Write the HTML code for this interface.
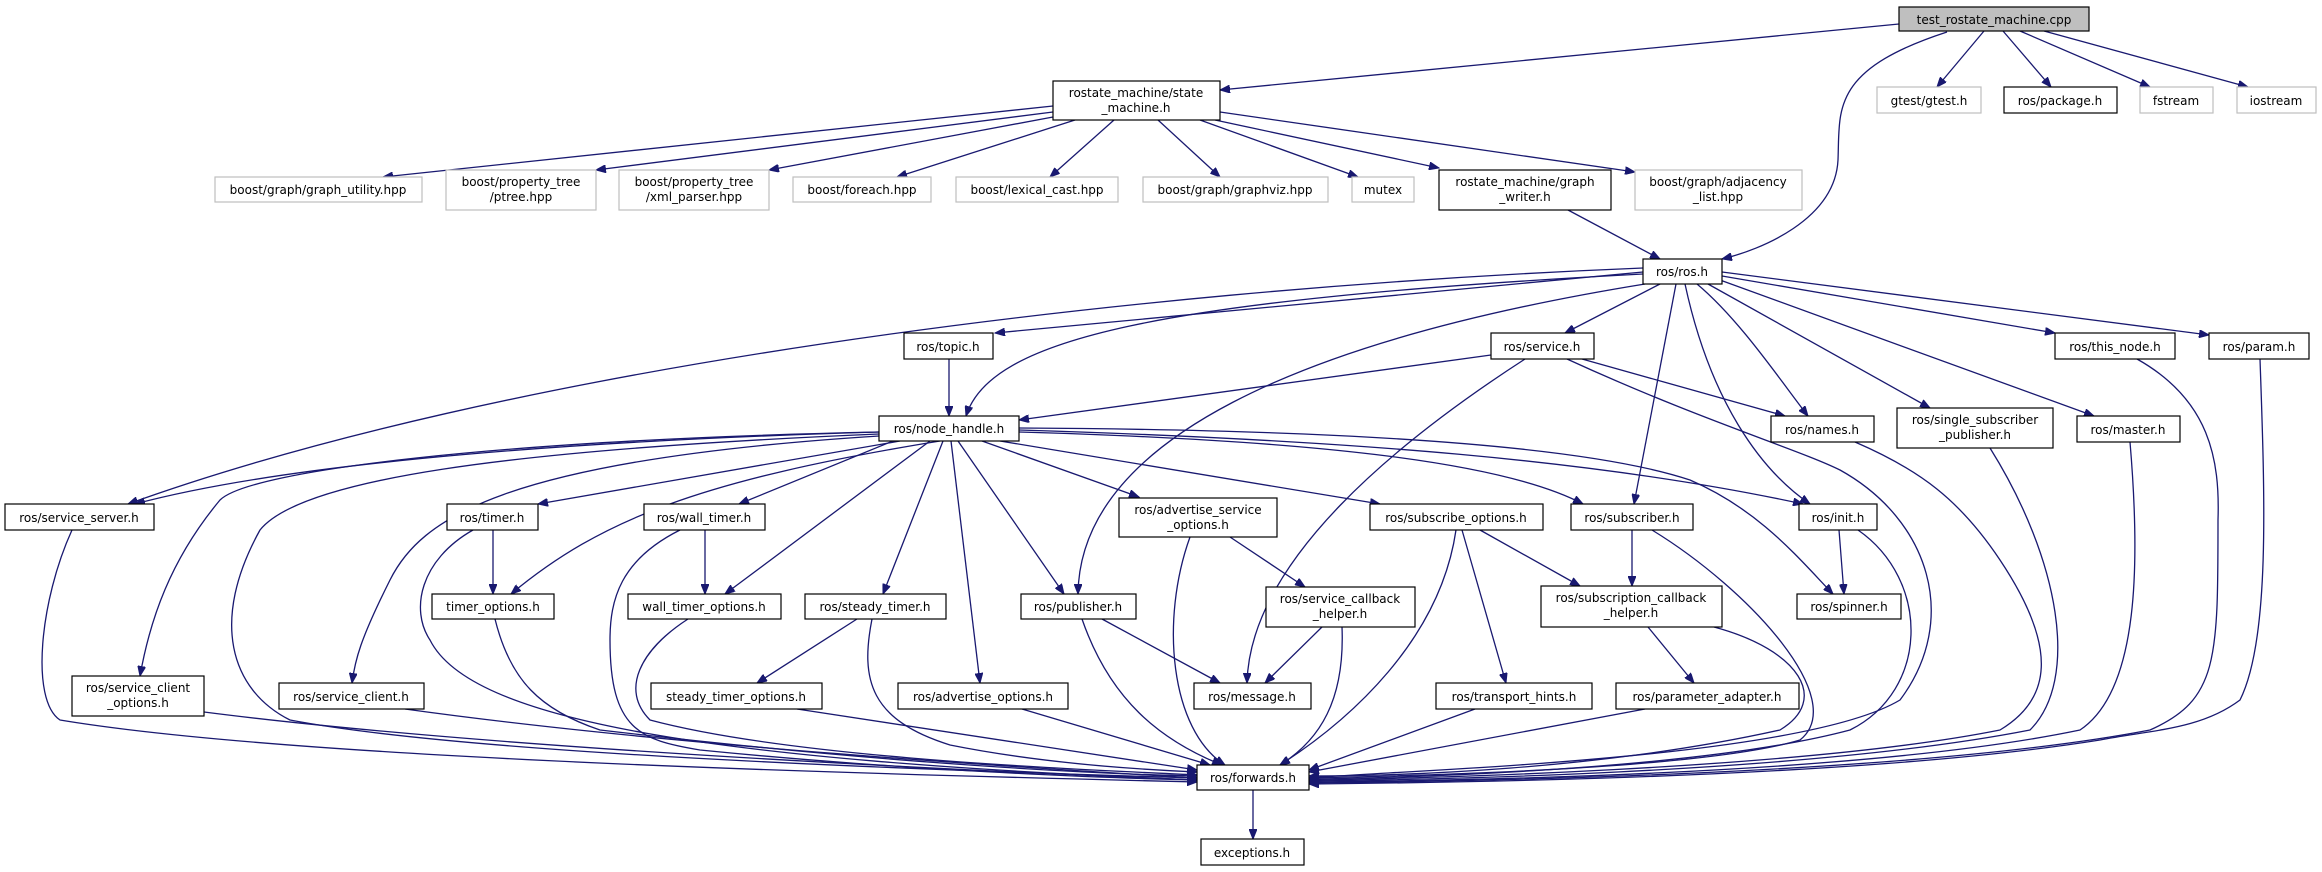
<!DOCTYPE html>
<html><head><meta charset="utf-8"><style>
html,body{margin:0;padding:0;background:#fff;}
svg{display:block;}
text{font-family:"DejaVu Sans","Liberation Sans",sans-serif;font-size:12px;fill:#000;text-anchor:middle;}
.e{fill:none;stroke:#191970;stroke-width:1.3;marker-end:url(#a);}
.b{fill:#fff;stroke:#000;stroke-width:1.2;}
.g{fill:#fff;stroke:#bfbfbf;stroke-width:1.2;}
</style></head><body>
<svg width="2322" height="872" viewBox="0 0 2322 872" xmlns="http://www.w3.org/2000/svg">
<defs><marker id="a" markerWidth="11" markerHeight="8" refX="10" refY="4" orient="auto" markerUnits="userSpaceOnUse"><path d="M0,0 L10,4 L0,8 z" fill="#191970" stroke="#191970"/></marker></defs>
<g>
<path class="e" d="M1899,24 L1220,90"/>
<path class="e" d="M1947,32 C1830,70 1840,110 1838,160 C1835,220 1760,250 1722,259"/>
<path class="e" d="M1984,31 L1937,87"/>
<path class="e" d="M2003,31 L2051,87"/>
<path class="e" d="M2020,31 L2150,87"/>
<path class="e" d="M2044,31 L2248,87"/>
<path class="e" d="M1053,106 L383,177"/>
<path class="e" d="M1053,112 L596,170"/>
<path class="e" d="M1053,117 L769,170"/>
<path class="e" d="M1075,120 L897,177"/>
<path class="e" d="M1114,120 L1050,177"/>
<path class="e" d="M1158,120 L1220,177"/>
<path class="e" d="M1200,120 L1358,177"/>
<path class="e" d="M1215,120 L1439,168"/>
<path class="e" d="M1220,112 L1635,172"/>
<path class="e" d="M1568,210 L1660,259"/>
<path class="e" d="M1643,268 C1100,290 500,370 128,504"/>
<path class="e" d="M1643,272 L995,333"/>
<path class="e" d="M1643,274 C1150,300 990,340 966,416"/>
<path class="e" d="M1645,284 C1300,340 1080,440 1078,594"/>
<path class="e" d="M1660,284 L1565,333"/>
<path class="e" d="M1676,284 L1634,504"/>
<path class="e" d="M1685,284 C1710,400 1760,470 1810,504"/>
<path class="e" d="M1697,284 C1740,320 1780,380 1808,416"/>
<path class="e" d="M1708,284 L1930,408"/>
<path class="e" d="M1720,280 L2094,416"/>
<path class="e" d="M1722,276 L2055,333"/>
<path class="e" d="M1722,272 L2209,335"/>
<path class="e" d="M949,359 L949,416"/>
<path class="e" d="M1491,355 L1019,420"/>
<path class="e" d="M1582,359 L1785,416"/>
<path class="e" d="M1525,359 C1400,440 1250,560 1247,683"/>
<path class="e" d="M1567,359 C1700,420 1800,450 1840,470 C1930,520 1960,620 1900,700 C1800,760 1400,770 1309,778"/>
<path class="e" d="M879,432 C600,440 300,460 135,504"/>
<path class="e" d="M879,432 C500,440 250,470 220,500 C170,560 150,620 140,676"/>
<path class="e" d="M879,434 C500,450 300,480 260,530 C210,620 230,690 290,720 C500,760 1100,775 1197,778"/>
<path class="e" d="M879,436 C500,460 420,520 390,580 C360,640 355,660 352,683"/>
<path class="e" d="M900,441 L538,504"/>
<path class="e" d="M940,441 C700,480 600,520 511,594"/>
<path class="e" d="M893,441 L739,504"/>
<path class="e" d="M930,441 L725,594"/>
<path class="e" d="M943,441 L883,594"/>
<path class="e" d="M951,441 L980,683"/>
<path class="e" d="M958,441 L1064,594"/>
<path class="e" d="M982,441 L1139,497"/>
<path class="e" d="M1000,441 L1380,504"/>
<path class="e" d="M1019,432 C1300,440 1500,460 1583,504"/>
<path class="e" d="M1019,430 C1350,440 1600,460 1803,504"/>
<path class="e" d="M1019,428 C1400,430 1600,450 1690,480 C1760,510 1800,560 1833,594"/>
<path class="e" d="M493,530 L493,594"/>
<path class="e" d="M473,530 C420,560 410,610 430,640 C470,720 700,760 1197,780"/>
<path class="e" d="M705,530 L705,594"/>
<path class="e" d="M680,530 C620,560 610,600 610,640 C610,730 640,740 700,750 C900,770 1100,778 1197,780"/>
<path class="e" d="M72,530 C40,600 30,700 60,720 C300,760 900,775 1197,782"/>
<path class="e" d="M204,712 C500,750 1000,772 1197,780"/>
<path class="e" d="M405,709 C700,750 1100,772 1197,778"/>
<path class="e" d="M495,619 C510,680 540,710 600,730 C900,765 1100,774 1197,776"/>
<path class="e" d="M688,619 C640,650 620,690 650,720 C800,760 1100,770 1197,775"/>
<path class="e" d="M857,619 L757,683"/>
<path class="e" d="M872,619 C860,680 870,720 950,745 C1050,765 1150,770 1197,772"/>
<path class="e" d="M797,709 L1197,770"/>
<path class="e" d="M1022,709 L1210,765"/>
<path class="e" d="M1082,619 C1110,700 1160,740 1222,765"/>
<path class="e" d="M1102,619 L1220,683"/>
<path class="e" d="M1230,537 L1305,587"/>
<path class="e" d="M1190,537 C1160,620 1170,730 1225,765"/>
<path class="e" d="M1322,627 L1265,683"/>
<path class="e" d="M1342,627 C1345,700 1320,740 1280,765"/>
<path class="e" d="M1456,530 C1440,640 1350,720 1280,765"/>
<path class="e" d="M1462,530 L1506,683"/>
<path class="e" d="M1480,530 L1580,586"/>
<path class="e" d="M1632,530 L1632,586"/>
<path class="e" d="M1652,530 C1750,590 1850,700 1800,740 C1700,770 1400,776 1309,778"/>
<path class="e" d="M1648,627 L1694,683"/>
<path class="e" d="M1714,627 C1800,650 1830,700 1780,730 C1600,770 1400,776 1309,776"/>
<path class="e" d="M1839,530 L1844,594"/>
<path class="e" d="M1858,530 C1930,580 1930,690 1850,730 C1700,770 1400,778 1309,779"/>
<path class="e" d="M1475,709 L1309,770"/>
<path class="e" d="M1645,709 L1309,772"/>
<path class="e" d="M1855,442 C1920,470 1960,500 2000,560 C2060,650 2050,700 2000,730 C1800,770 1400,779 1309,780"/>
<path class="e" d="M1990,448 C2060,560 2080,680 2030,730 C1800,775 1400,780 1309,781"/>
<path class="e" d="M2130,442 C2140,560 2140,690 2080,730 C1850,778 1400,781 1309,782"/>
<path class="e" d="M2137,359 C2210,400 2220,460 2218,520 C2218,660 2218,700 2150,730 C1900,778 1400,782 1309,783"/>
<path class="e" d="M2260,359 C2265,500 2270,640 2240,700 C2200,730 2150,730 2100,740 C1850,780 1400,783 1309,784"/>
<path class="e" d="M1253,790 L1253,839"/>
</g>
<g>
<rect x="1899" y="7" width="190" height="24" fill="#bfbfbf" stroke="#000" stroke-width="1.2"/><text x="1994" y="24">test_rostate_machine.cpp</text>
<rect class="g" x="1877" y="87" width="104" height="26"/><text x="1929" y="105">gtest/gtest.h</text>
<rect class="b" x="2004" y="87" width="113" height="26"/><text x="2060" y="105">ros/package.h</text>
<rect class="g" x="2140" y="87" width="73" height="26"/><text x="2176" y="105">fstream</text>
<rect class="g" x="2237" y="87" width="79" height="26"/><text x="2276" y="105">iostream</text>
<rect class="b" x="1053" y="81" width="167" height="39"/><text x="1136" y="97">rostate_machine/state</text><text x="1136" y="112">_machine.h</text>
<rect class="g" x="215" y="177" width="207" height="25"/><text x="318" y="194">boost/graph/graph_utility.hpp</text>
<rect class="g" x="446" y="170" width="150" height="40"/><text x="521" y="186">boost/property_tree</text><text x="521" y="201">/ptree.hpp</text>
<rect class="g" x="619" y="170" width="150" height="40"/><text x="694" y="186">boost/property_tree</text><text x="694" y="201">/xml_parser.hpp</text>
<rect class="g" x="793" y="177" width="138" height="25"/><text x="862" y="194">boost/foreach.hpp</text>
<rect class="g" x="956" y="177" width="162" height="25"/><text x="1037" y="194">boost/lexical_cast.hpp</text>
<rect class="g" x="1143" y="177" width="185" height="25"/><text x="1235" y="194">boost/graph/graphviz.hpp</text>
<rect class="g" x="1352" y="177" width="62" height="25"/><text x="1383" y="194">mutex</text>
<rect class="b" x="1439" y="170" width="172" height="40"/><text x="1525" y="186">rostate_machine/graph</text><text x="1525" y="201">_writer.h</text>
<rect class="g" x="1635" y="170" width="167" height="40"/><text x="1718" y="186">boost/graph/adjacency</text><text x="1718" y="201">_list.hpp</text>
<rect class="b" x="1643" y="259" width="79" height="25"/><text x="1682" y="276">ros/ros.h</text>
<rect class="b" x="904" y="333" width="89" height="26"/><text x="948" y="351">ros/topic.h</text>
<rect class="b" x="1491" y="333" width="103" height="26"/><text x="1542" y="351">ros/service.h</text>
<rect class="b" x="2055" y="333" width="120" height="26"/><text x="2115" y="351">ros/this_node.h</text>
<rect class="b" x="2209" y="333" width="100" height="26"/><text x="2259" y="351">ros/param.h</text>
<rect class="b" x="879" y="416" width="140" height="25"/><text x="949" y="433">ros/node_handle.h</text>
<rect class="b" x="1771" y="416" width="103" height="26"/><text x="1822" y="434">ros/names.h</text>
<rect class="b" x="1897" y="408" width="156" height="40"/><text x="1975" y="424">ros/single_subscriber</text><text x="1975" y="439">_publisher.h</text>
<rect class="b" x="2077" y="416" width="103" height="26"/><text x="2128" y="434">ros/master.h</text>
<rect class="b" x="5" y="504" width="149" height="26"/><text x="79" y="522">ros/service_server.h</text>
<rect class="b" x="447" y="504" width="91" height="26"/><text x="492" y="522">ros/timer.h</text>
<rect class="b" x="644" y="504" width="121" height="26"/><text x="704" y="522">ros/wall_timer.h</text>
<rect class="b" x="1119" y="498" width="158" height="39"/><text x="1198" y="514">ros/advertise_service</text><text x="1198" y="529">_options.h</text>
<rect class="b" x="1370" y="504" width="173" height="26"/><text x="1456" y="522">ros/subscribe_options.h</text>
<rect class="b" x="1571" y="504" width="122" height="26"/><text x="1632" y="522">ros/subscriber.h</text>
<rect class="b" x="1799" y="504" width="78" height="26"/><text x="1838" y="522">ros/init.h</text>
<rect class="b" x="432" y="594" width="122" height="25"/><text x="493" y="611">timer_options.h</text>
<rect class="b" x="628" y="594" width="153" height="25"/><text x="704" y="611">wall_timer_options.h</text>
<rect class="b" x="805" y="594" width="141" height="25"/><text x="875" y="611">ros/steady_timer.h</text>
<rect class="b" x="1021" y="594" width="115" height="25"/><text x="1078" y="611">ros/publisher.h</text>
<rect class="b" x="1266" y="587" width="149" height="40"/><text x="1340" y="603">ros/service_callback</text><text x="1340" y="618">_helper.h</text>
<rect class="b" x="1541" y="586" width="181" height="41"/><text x="1631" y="602">ros/subscription_callback</text><text x="1631" y="617">_helper.h</text>
<rect class="b" x="1797" y="594" width="104" height="25"/><text x="1849" y="611">ros/spinner.h</text>
<rect class="b" x="72" y="676" width="132" height="40"/><text x="138" y="692">ros/service_client</text><text x="138" y="707">_options.h</text>
<rect class="b" x="279" y="683" width="145" height="26"/><text x="351" y="701">ros/service_client.h</text>
<rect class="b" x="651" y="683" width="171" height="26"/><text x="736" y="701">steady_timer_options.h</text>
<rect class="b" x="898" y="683" width="170" height="26"/><text x="983" y="701">ros/advertise_options.h</text>
<rect class="b" x="1194" y="683" width="117" height="26"/><text x="1252" y="701">ros/message.h</text>
<rect class="b" x="1436" y="683" width="156" height="26"/><text x="1514" y="701">ros/transport_hints.h</text>
<rect class="b" x="1616" y="683" width="183" height="26"/><text x="1707" y="701">ros/parameter_adapter.h</text>
<rect class="b" x="1197" y="765" width="112" height="25"/><text x="1253" y="782">ros/forwards.h</text>
<rect class="b" x="1201" y="839" width="103" height="26"/><text x="1252" y="857">exceptions.h</text>
</g>
</svg>
</body></html>
